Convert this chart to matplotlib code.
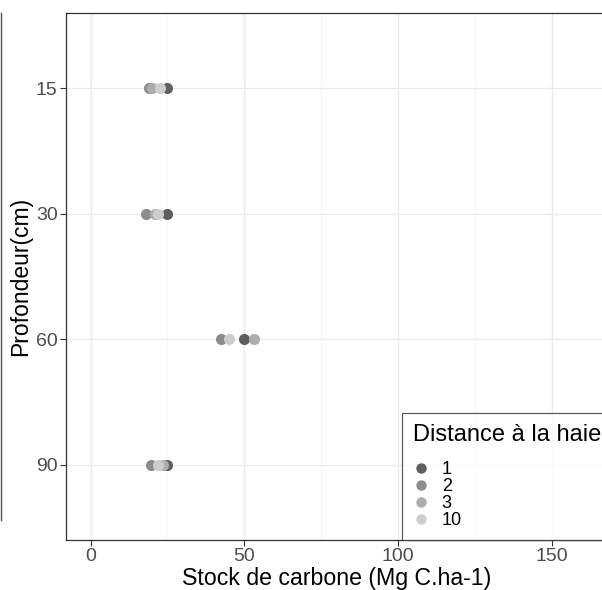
import matplotlib.pyplot as plt
from matplotlib.lines import Line2D

plt.rcParams['font.family'] = ['Liberation Sans', 'DejaVu Sans']

# depths (discrete categories) and distance to hedge groups
depths = ['15', '30', '60', '90']
distances = ['1', '2', '3', '10']
colors = ['#5f5f5f', '#8c8c8c', '#adadad', '#cdcdcd']

# carbon stock (Mg C/ha) per distance, in depth order
stock_1 = [25.0, 24.8, 50.0, 25.0]
stock_2 = [19.0, 18.0, 42.5, 19.5]
stock_3 = [20.0, 21.0, 53.0, 23.5]
stock_10 = [22.5, 22.0, 45.0, 22.0]
stocks = [stock_1, stock_2, stock_3, stock_10]

fig = plt.figure(figsize=(6.02, 5.90), dpi=100)
W, H = 602, 590
ax = fig.add_axes([66 / W, 1 - 540 / H, (607 - 66) / W, (540 - 13) / H])

ypos = range(1, len(depths) + 1)
for dist, col, vals in zip(distances, colors, stocks):
    ax.scatter(vals, ypos, s=64, color=col, zorder=3, linewidths=0)

ax.set_xlim(-8, 168)
ax.set_ylim(4.6, 0.4)
ax.set_yticks(list(ypos))
ax.set_yticklabels(depths)
ax.set_xticks([0, 50, 100, 150])
ax.set_xticks([25, 75, 125], minor=True)

# theme_bw-like grid
ax.grid(which='major', color='#ebebeb', linewidth=1.0, zorder=0)
ax.grid(which='minor', axis='x', color='#f2f2f2', linewidth=0.6, zorder=0)
ax.set_axisbelow(True)
ax.tick_params(which='minor', length=0)
ax.tick_params(which='major', length=4, width=0.8, color='#333333',
               labelsize=14, labelcolor='#4d4d4d', pad=2)
for sp in ax.spines.values():
    sp.set_color('#333333')
    sp.set_linewidth(0.9)

ax.set_xlabel('Stock de carbone (Mg C.ha-1)', fontsize=16.7, color='black', labelpad=1)
ax.set_ylabel('Profondeur(cm)', fontsize=16.5, color='black', labelpad=3)

handles = [Line2D([], [], marker='o', linestyle='', markersize=7.5,
                  markerfacecolor=c, markeredgewidth=0) for c in colors]
leg = ax.legend(handles, distances, title='Distance à la haie',
                loc='lower left', bbox_to_anchor=(402 / W, 1 - 540 / H),
                bbox_transform=fig.transFigure, fontsize=13, title_fontsize=17,
                frameon=True, fancybox=False, handlelength=0.9,
                handletextpad=0.7, labelspacing=0.0, borderpad=0.6,
                borderaxespad=0, alignment='left')
leg._legend_box.sep = 11  # gap between title and entries
leg.get_frame().set_edgecolor('#333333')
leg.get_frame().set_linewidth(0.9)
leg.get_frame().set_facecolor('white')

# stray border line at the far left of the screenshot
fig.add_artist(Line2D([1 / W, 1 / W], [1 - 13 / H, 1 - 520 / H],
                      transform=fig.transFigure, color='#555555', linewidth=1.0))

fig.savefig('out.png', dpi=100)
